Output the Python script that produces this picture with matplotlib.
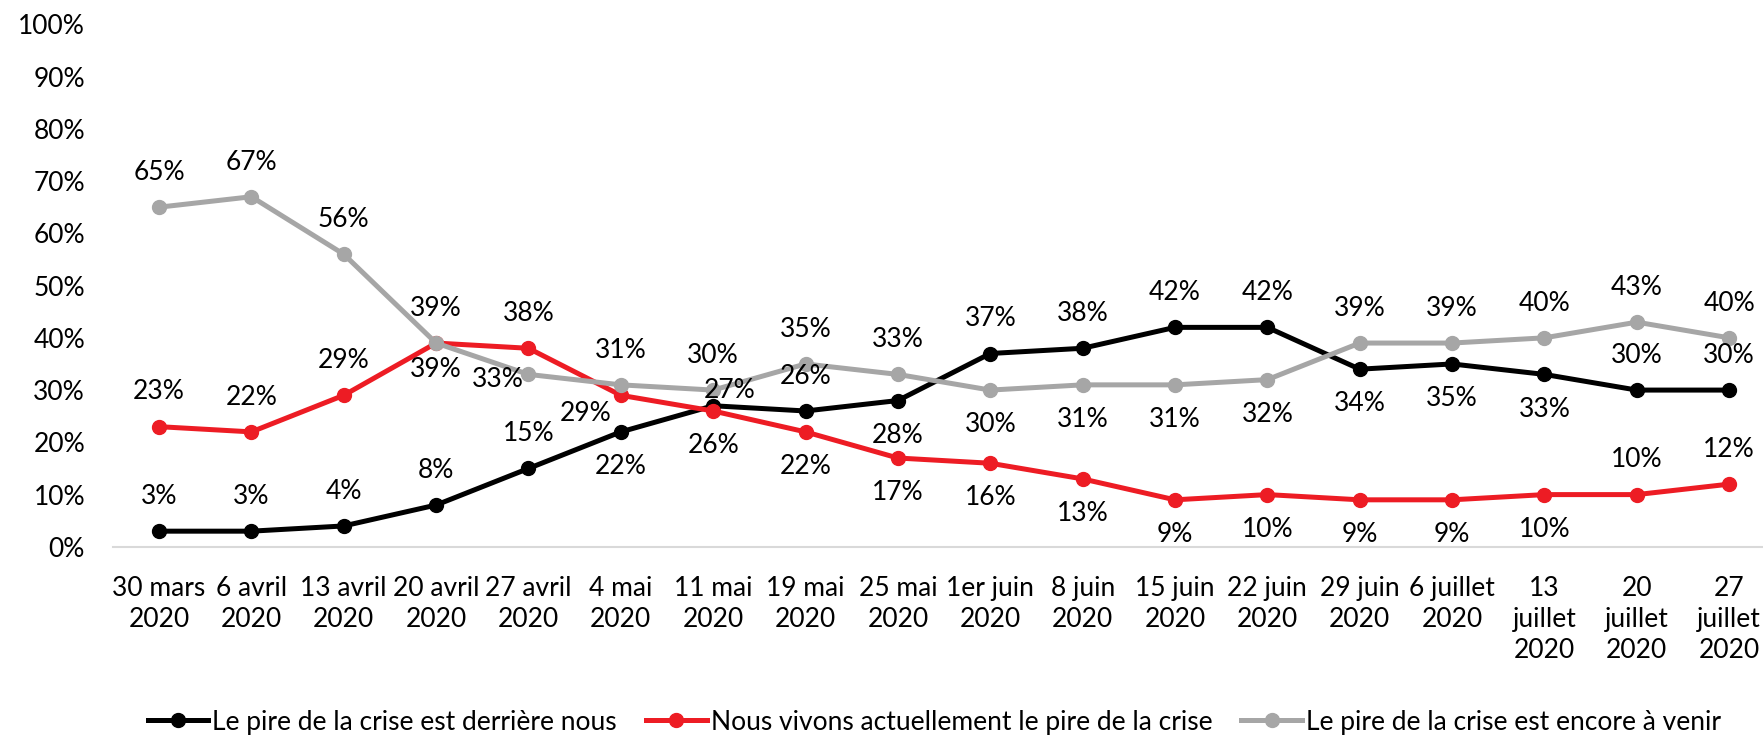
import matplotlib
matplotlib.use('Agg')
import matplotlib.pyplot as plt

plt.rcParams['font.family'] = ['Lato', 'DejaVu Sans']

dates = ['30 mars\n2020', '6 avril\n2020', '13 avril\n2020', '20 avril\n2020', '27 avril\n2020',
         '4 mai\n2020', '11 mai\n2020', '19 mai\n2020', '25 mai\n2020', '1er juin\n2020',
         '8 juin\n2020', '15 juin\n2020', '22 juin\n2020', '29 juin\n2020', '6 juillet\n2020',
         '13\njuillet\n2020', '20\njuillet\n2020', '27\njuillet\n2020']

derriere = [3, 3, 4, 8, 15, 22, 27, 26, 28, 37, 38, 42, 42, 34, 35, 33, 30, 30]
actuel = [23, 22, 29, 39, 38, 29, 26, 22, 17, 16, 13, 9, 10, 9, 9, 10, 10, 12]
a_venir = [65, 67, 56, 39, 33, 31, 30, 35, 33, 30, 31, 31, 32, 39, 39, 40, 43, 40]

names = ['Le pire de la crise est derrière nous',
         'Nous vivons actuellement le pire de la crise',
         'Le pire de la crise est encore à venir']
colors = ['#000000', '#ED1C24', '#A6A6A6']

# where each data label sits: a = above, b = below, l/l2 = left, r = right-above
pos_derriere = ['a', 'a', 'a', 'a', 'a', 'b', 'r', 'a', 'b', 'a', 'a', 'a', 'a', 'b', 'b', 'b', 'a', 'a']
pos_actuel = ['a', 'a', 'a', 'a', 'a', 'l2', 'b', 'b', 'b', 'b', 'b', 'b', 'b', 'b', 'b', 'b', 'a', 'a']
pos_venir = ['a', 'a', 'a', 'b2', 'l', 'a', 'a', 'a', 'a', 'b', 'b', 'b', 'b', 'a', 'a', 'a', 'a', 'a']

offsets = {'a': (0, 25), 'b': (0, -25), 'b2': (0, -19), 'l': (-22, -4), 'l2': (-25, -13), 'r': (12, 11)}

fig = plt.figure(figsize=(17.63, 7.36), dpi=100)
ax = fig.add_axes([0.064, 0.257, 0.943, 0.71])

x = list(range(len(dates)))
for vals, pos, name, c in zip([derriere, actuel, a_venir], [pos_derriere, pos_actuel, pos_venir], names, colors):
    ax.plot(x, vals, color=c, lw=3.6, marker='o', markersize=10, label=name, zorder=3)
    for xi, v, p in zip(x, vals, pos):
        ax.annotate(f'{v}%', (xi, v), xytext=offsets[p], textcoords='offset points',
                    ha='center', va='center', fontsize=19, color='black', zorder=4)

ax.set_xlim(-0.5, len(dates) - 0.5)
ax.set_ylim(0, 100)
ax.set_yticks(range(0, 101, 10))
ax.set_yticklabels([f'{t}%' for t in range(0, 101, 10)], fontsize=19)
ax.set_xticks(x)
ax.set_xticklabels(dates, fontsize=19, linespacing=1.3, va='top')
ax.tick_params(length=0)
ax.tick_params(axis='x', pad=21)
ax.tick_params(axis='y', pad=20)
for s in ['top', 'right', 'left']:
    ax.spines[s].set_visible(False)
ax.spines['bottom'].set_color('#D9D9D9')
ax.spines['bottom'].set_linewidth(1.5)

fig.legend(loc='center', bbox_to_anchor=(0.53, 0.019), ncol=3, frameon=False,
           fontsize=19, handlelength=2.3, handletextpad=0.15, columnspacing=1.1)

fig.savefig('out.png', dpi=100)
